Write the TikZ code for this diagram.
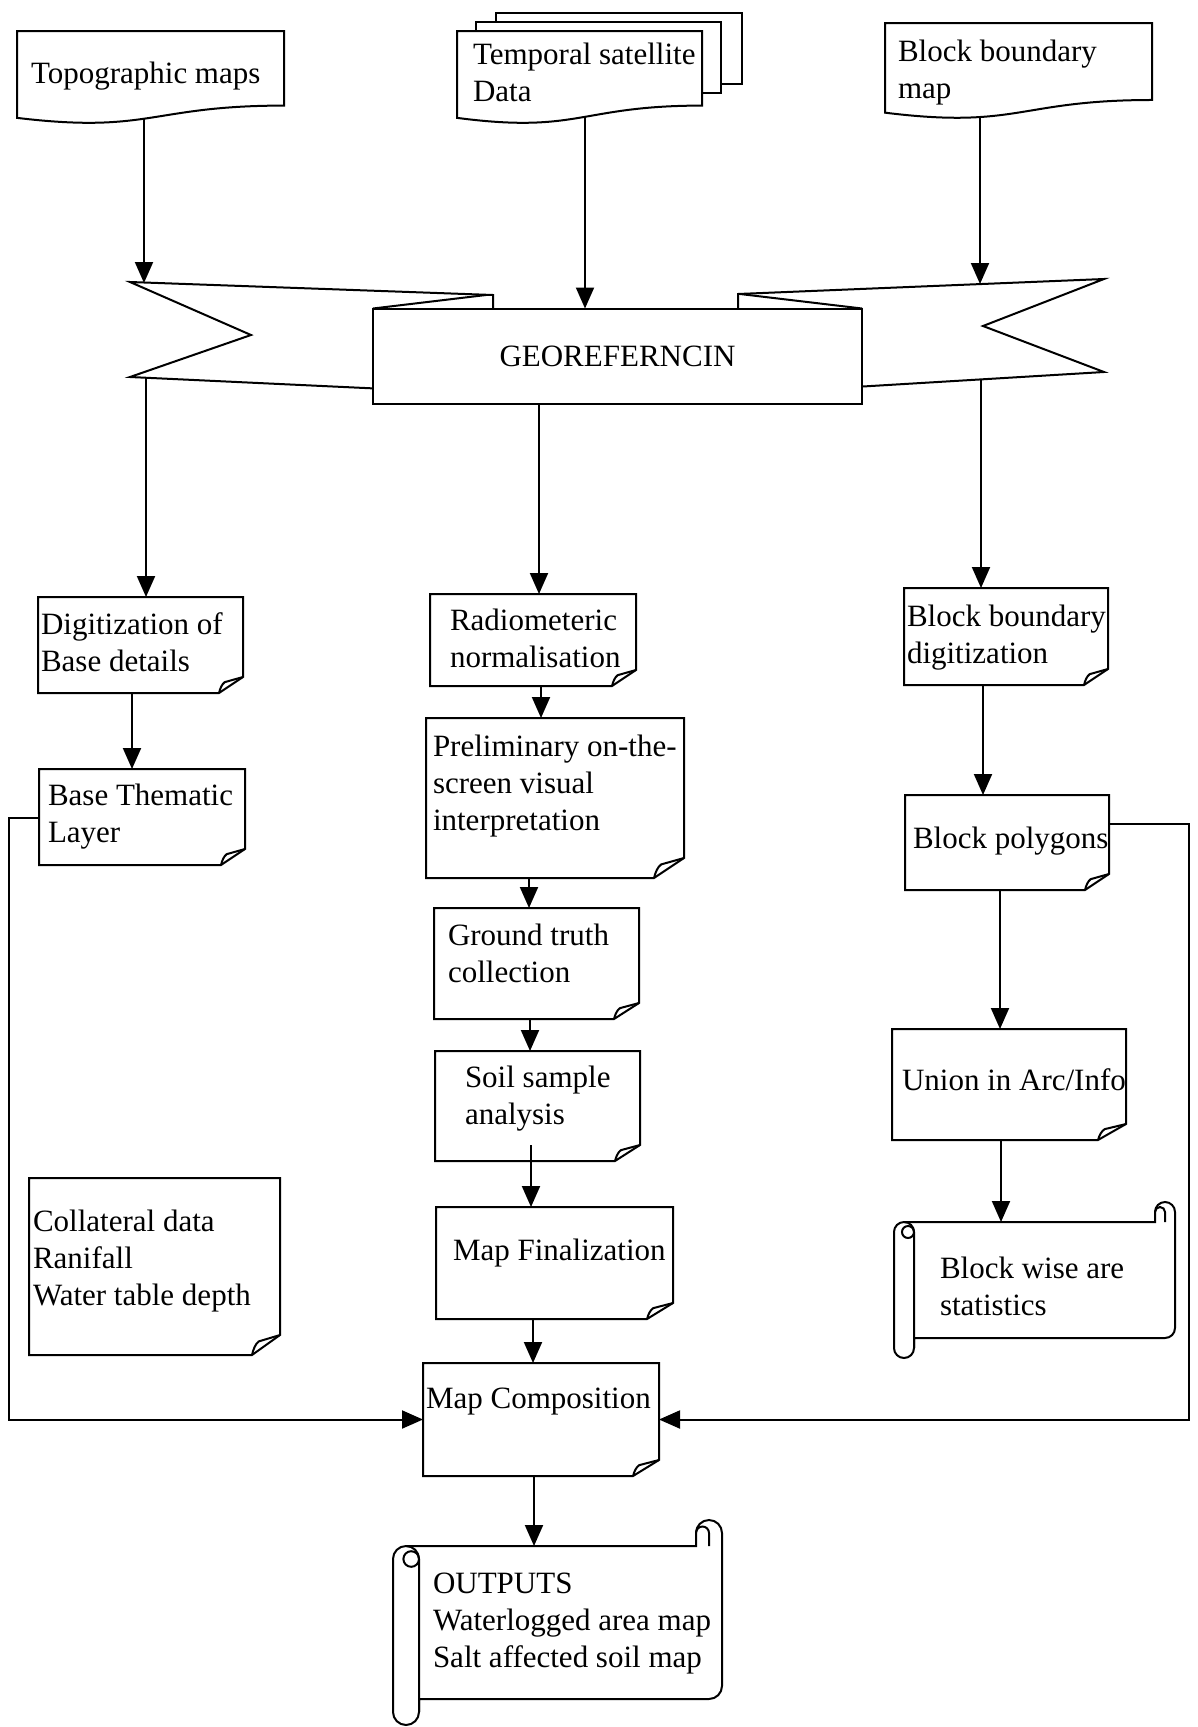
\documentclass[tikz,border=0pt]{standalone}
\usepackage{fontspec}
\setmainfont{Liberation Serif}
\usetikzlibrary{arrows.meta}
\pgfdeclarelayer{bg}
\pgfsetlayers{bg,main}
\tikzset{
  shp/.style={draw=black, line width=2pt, fill=white, line join=miter},
  wire/.style={draw=black, line width=2pt},
  arr/.style={wire, -{Triangle[length=21pt,width=18pt]}},
  hold/.style={inner sep=0pt, outer sep=0pt, draw=none},
  lbl/.style={inner sep=0pt, outer sep=0pt, anchor=west, align=left, font=\fontsize{31}{37}\selectfont}
}
% invisible holder node: name l t r b
\newcommand\mkhold[5]{%
  \pgfmathsetmacro\hW{#4-#2}\pgfmathsetmacro\hH{#5-#3}%
  \pgfmathsetmacro\hX{(#2+#4)/2}\pgfmathsetmacro\hY{(#3+#5)/2}%
  \node[hold, minimum width=\hW pt, minimum height=\hH pt] (#1) at (\hX,\hY) {};}
% note with folded corner: name l t r b fx fy
\newcommand\notebox[7]{%
  \mkhold{#1}{#2}{#3}{#4}{#5}%
  \draw[shp] (#2,#3) -- (#4,#3) -- (#4,#5-#7) -- (#4-#6,#5) -- (#2,#5) -- cycle;
  \draw[wire, line join=round] (#4-#6,#5) .. controls (#4-0.95*#6,#5-0.3*#7) and (#4-0.88*#6,#5-0.55*#7) .. (#4-0.76*#6,#5-0.68*#7) -- (#4,#5-#7);}
% document shape: name l t r h
\newcommand\docbox[5]{%
  \pgfmathsetmacro\dB{#3+#5}%
  \mkhold{#1}{#2}{#3}{#4}{\dB}%
  \draw[shp] (#2,#3) -- (#4,#3) -- (#4,#3+0.802*#5) .. controls ({(#2+#4)/2},#3+0.802*#5) and ({(#2+#4)/2},#3+1.107*#5) .. (#2,#3+0.934*#5) -- cycle;}
% horizontal scroll: name L T R B d
\newcommand\scrollbox[6]{%
  \mkhold{#1}{#2}{#3}{#4}{#5}%
  \pgfmathsetmacro\sE{#6/2}\pgfmathsetmacro\sQ{#6/4}\pgfmathsetmacro\sC{#6*0.3}%
  \coordinate (#1-top) at (#2,#3+#6);
  \draw[shp] (#2+#6,#3+#6) -- (#4-#6,#3+#6) -- (#4-#6,#3+\sE) arc[start angle=180,end angle=360,radius=\sE]
     -- (#4,#5-#6-\sE) arc[start angle=0,end angle=90,radius=\sE] -- (#2+#6,#5-#6) -- (#2+#6,#5-\sE)
     arc[start angle=0,end angle=180,radius=\sE] -- (#2,#3+#6+\sE) arc[start angle=180,end angle=270,radius=\sE] -- cycle;
  \draw[wire] (#2+\sE,#3+#6) arc[start angle=270,end angle=360,radius=\sE] -- (#2+#6,#5-\sE);
  \draw[wire] (#2+#6-\sC,#3+#6+\sE) circle[radius=\sC];
  \draw[wire] (#4-\sE,#3+#6) -- (#4-\sE,#3+\sE) arc[start angle=0,end angle=-180,radius=\sQ];}

\begin{document}
\begin{tikzpicture}[x=1pt,y=-1pt]
\useasboundingbox (0,0) rectangle (1197,1727);

% ---------- top row ----------
\docbox{topo}{17}{31}{284}{93}
\node[lbl] (t-topo) at (31,76) {\strut Topographic maps};

\draw[shp] (496,13) rectangle (742,84);
\draw[shp] (476,22) rectangle (721,93);
\docbox{temporal}{457}{31}{702}{93}
\node[lbl] (t-temporal) at (473,76) {\strut Temporal satellite\\\strut Data};

\docbox{bmap}{885}{23}{1152}{96}
\node[lbl] (t-bmap) at (898,73) {\strut Block boundary\\\strut map};

% ---------- georeferencing banner ----------
\draw[shp] (130,282) -- (493,295) -- (493,394) -- (130,377) -- (251,335) -- cycle;
\draw[shp] (1104,279) -- (738,294) -- (738,394) -- (1104,372) -- (983,326) -- cycle;
\node[shp, inner sep=0pt, minimum width=489pt, minimum height=95pt,
      font=\fontsize{31}{37}\selectfont] (geo) at (617.5,356) {GEOREFERNCIN};
\draw[wire] (373,308.5) -- (486,295);
\draw[wire] (740,294) -- (862,308.5);
\coordinate (geoA) at (144,283);
\coordinate (geoB) at (585,308.5);
\coordinate (geoC) at (980,284);
\coordinate (geoD) at (146,378);
\coordinate (geoE) at (539,403.5);
\coordinate (geoF) at (981,379);

% ---------- left column ----------
\notebox{dig}{38}{597}{243}{693}{24}{16}
\node[lbl] (t-dig) at (41,646) {\strut Digitization of\\\strut Base details};
\notebox{base}{39}{769}{245}{865}{24}{16}
\node[lbl] (t-base) at (48,817) {\strut Base Thematic\\\strut Layer};
\notebox{coll}{29}{1178}{280}{1355}{28}{20}
\node[lbl] (t-coll) at (33,1261) {\strut Collateral data\\\strut Ranifall\\\strut Water table depth};

% ---------- centre column ----------
\notebox{radio}{430}{594}{636}{686}{24}{16}
\node[lbl] (t-radio) at (450,642) {\strut Radiometeric\\\strut normalisation};
\notebox{prelim}{426}{718}{684}{878}{30}{20}
\node[lbl] (t-prelim) at (433,786) {\strut Preliminary on-the-\\\strut screen visual\\\strut interpretation};
\notebox{ground}{434}{908}{639}{1019}{25}{16}
\node[lbl] (t-ground) at (448,957) {\strut Ground truth\\\strut collection};
\notebox{soil}{435}{1051}{640}{1161}{25}{16}
\node[lbl] (t-soil) at (465,1099) {\strut Soil sample\\\strut analysis};
\notebox{mapfin}{436}{1207}{673}{1319}{26}{16}
\node[lbl] (t-mapfin) at (453,1253) {\strut Map Finalization};
\notebox{mapcomp}{423}{1363}{659}{1476}{26}{16}
\node[lbl] (t-mapcomp) at (426,1401) {\strut Map Composition};
\scrollbox{outputs}{393}{1520}{722}{1725}{26}
\node[lbl] (t-outputs) at (433,1623) {\strut OUTPUTS\\\strut Waterlogged area map\\\strut Salt affected soil map};

% ---------- right column ----------
\notebox{bbd}{904}{588}{1108}{685}{24}{16}
\node[lbl] (t-bbd) at (907,638) {\strut Block boundary\\\strut digitization};
\notebox{bpoly}{905}{795}{1109}{890}{24}{16}
\node[lbl] (t-bpoly) at (913,841) {\strut Block polygons};
\notebox{union}{892}{1029}{1126}{1140}{28}{16}
\node[lbl] (t-union) at (902,1083) {\strut Union in Arc/Info};
\scrollbox{bws}{894}{1202}{1175}{1358}{20}
\node[lbl] (t-bws) at (940,1290) {\strut Block wise are\\\strut statistics};

% ---------- connector columns ----------
\coordinate (xG) at (132,0);
\coordinate (xH) at (541,0);
\coordinate (xI) at (529,0);
\coordinate (xJ) at (530,0);
\coordinate (xK) at (531,0);
\coordinate (xL) at (533,0);
\coordinate (xM) at (534,0);
\coordinate (xN) at (983,0);
\coordinate (xO) at (1000,0);
\coordinate (xP) at (1001,0);
\coordinate (lj) at (9,818);
\coordinate (rj) at (1189,824);
\path ([yshift=16pt]soil.south) coordinate (soilup);

\draw[arr] (soilup -| xK) -- (mapfin.north -| xK);

\begin{pgfonlayer}{bg}
  \draw[arr] (topo.center -| geoA) -- (geoA);
  \draw[arr] (temporal.center -| geoB) -- (geoB);
  \draw[arr] (bmap.center -| geoC) -- (geoC);
  \draw[arr] (geoD) -- (dig.north -| geoD);
  \draw[arr] (geoE) -- (radio.north -| geoE);
  \draw[arr] (geoF) -- (bbd.north -| geoF);
  \draw[arr] (dig.south -| xG) -- (base.north -| xG);
  \draw[arr] (radio.south -| xH) -- (prelim.north -| xH);
  \draw[arr] (prelim.south -| xI) -- (ground.north -| xI);
  \draw[arr] (ground.south -| xJ) -- (soil.north -| xJ);
  \draw[arr] (mapfin.south -| xL) -- (mapcomp.north -| xL);
  \draw[arr] (mapcomp.south -| xM) -- (outputs-top -| xM);
  \draw[arr] (bbd.south -| xN) -- (bpoly.north -| xN);
  \draw[arr] (bpoly.south -| xO) -- (union.north -| xO);
  \draw[arr] (union.south -| xP) -- (bws-top -| xP);
  \draw[arr] (base.west |- lj) -- (lj) -- (lj |- mapcomp.west) -- (mapcomp.west);
  \draw[arr] (bpoly.east |- rj) -- (rj) -- (rj |- mapcomp.east) -- (mapcomp.east);
\end{pgfonlayer}
\end{tikzpicture}
\end{document}
